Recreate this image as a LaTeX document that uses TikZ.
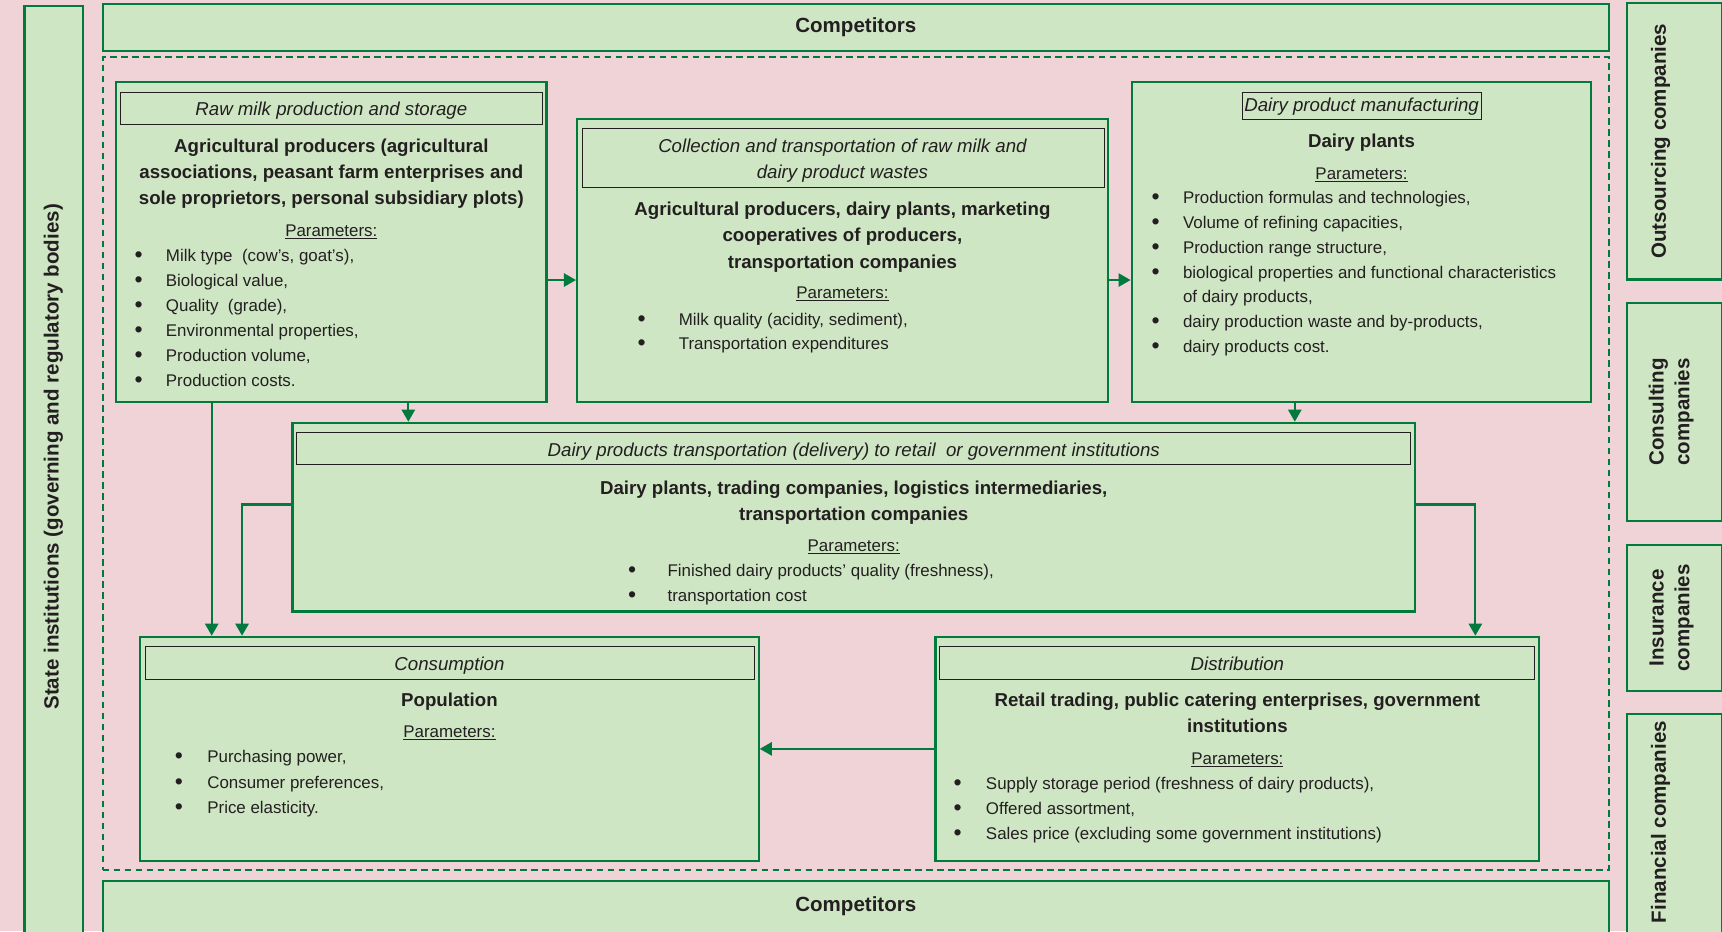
\documentclass[tikz,border=0pt]{standalone}
\usepackage{fontspec}
\setmainfont{Liberation Sans}
\usetikzlibrary{arrows.meta}
\definecolor{pinkbg}{RGB}{239,211,215}
\definecolor{leaf}{RGB}{207,230,196}
\definecolor{forest}{RGB}{0,122,61}
\definecolor{ink}{RGB}{35,31,32}
\tikzset{ stage/.style = { draw       = forest
                         , line width = 2pt
                         , fill       = leaf
                         , inner sep  = 0pt
                         },
          bar/.style   = { draw = ink, line width = 0.9pt, fill = leaf, inner sep = 0pt },
          ttl/.style   = { font = \fontsize{17}{24}\selectfont\itshape, text = ink, inner sep = 0pt },
          head/.style  = { font = \fontsize{17}{24}\selectfont\bfseries, text = ink, inner sep = 0pt },
          txt/.style   = { font = \fontsize{15.4}{23}\selectfont, text = ink, inner sep = 0pt },
          dot/.style   = { font = \fontsize{21}{23}\selectfont, text = ink, inner sep = 0pt },
          comp/.style  = { font = \fontsize{18.7}{23}\selectfont\bfseries, text = ink, inner sep = 0pt },
          side/.style  = { font = \fontsize{18.7}{23.5}\selectfont\bfseries, text = ink
                         , align = center, rotate = 90, inner sep = 0pt },
          flow/.style  = { draw = forest, line width = 2pt, -{Triangle[length=11pt,width=12pt]} }
        }
% lines of centred text: name, x, first baseline, step, style, lines
\newcommand\rows[6]{%
  \foreach \row [count=\n] in {#6} {
    \node[#5, anchor=base] (#1\n) at ({#2},{#3+#4*(\n-1)}) {\row};
  }}
% bullet list: name, bullet x, text x, first baseline, step, flag/text pairs
\newcommand\items[6]{%
  \foreach \bul/\itm [count=\n] in {#6} {
    \node[txt, anchor=base west] (#1\n) at ({#3},{#4+#5*(\n-1)}) {\itm};
    \ifnum\bul=1 \node[dot, anchor=base] (#1b\n) at ({#2},{#4+#5*(\n-1)+1}) {\textbullet}; \fi
  }}

\begin{document}
\begin{tikzpicture}[x=1pt, y=-1pt]
  \useasboundingbox (0,0) rectangle (1568,848);
  \fill[pinkbg] (0,0) rectangle (1568,848);

  % surrounding frame
  \node[stage, minimum width=53pt, minimum height=870pt, anchor=north] (state) at (48.8,4.3) {};
  \node[side] (statel) at (48.6,416) {State institutions (governing and regulatory bodies)};
  \node[stage, comp, minimum width=1371.5pt, minimum height=42.6pt] (topcomp) at (779.25,24.9) {Competitors};
  \node[stage, minimum width=1371.5pt, minimum height=70pt, anchor=north] (botcomp) at (779.25,801.5) {};
  \node[comp, anchor=base] (botcompl) at (779.25,829.7) {Competitors};
  \node[draw=forest, line width=1.8pt, dash pattern=on 6pt off 4pt,
        minimum width=1371.5pt, minimum height=740.1pt] (core) at (779.25,422.25) {};

  \node[stage, minimum width=86.2pt, minimum height=251.8pt] (outs) at (1524.6,128.6) {};
  \node[stage, minimum width=86.2pt, minimum height=198.5pt] (consult) at (1524.6,375.05) {};
  \node[stage, minimum width=86.2pt, minimum height=132.5pt] (insur) at (1524.6,562.75) {};
  \node[stage, minimum width=86.2pt, minimum height=221pt, anchor=north] (finan) at (1524.6,649) {};
  \node[side] (outsl) at (1512,128.6) {Outsourcing companies};
  \node[side] (consultl) at (1521.7,375) {Consulting\\companies};
  \node[side] (insurl) at (1522,562.7) {Insurance\\companies};
  \node[side] (finanl) at (1512,748.5) {Financial companies};

  % raw milk
  \node[stage, minimum width=392.1pt, minimum height=292pt] (raw) at (301.65,220.4) {};
  \node[bar, minimum width=384.5pt, minimum height=29.1pt] (rawbar) at (302.05,98.65) {};
  \rows{rawt}{301.7}{105.1}{24}{ttl}{Raw milk production and storage}
  \rows{rawh}{301.7}{138.8}{23.65}{head}{Agricultural producers (agricultural,
        {associations, peasant farm enterprises and}, {sole proprietors, personal subsidiary plots)}}
  \rows{rawp}{301.7}{215}{0}{txt}{\underline{Parameters:}}
  \items{rawi}{126.2}{150.9}{238}{22.85}{1/{Milk type\ \ (cow's, goat's),}, 1/{Biological value,},
        1/{Quality\ \ (grade),}, 1/{Environmental properties,}, 1/{Production volume,}, 1/{Production costs.}}

  % collection
  \node[stage, minimum width=483.2pt, minimum height=257.9pt] (coll) at (767.1,237.45) {};
  \node[bar, minimum width=475.1pt, minimum height=53.7pt] (collbar) at (767.75,144.05) {};
  \rows{collt}{767.1}{138.8}{23.7}{ttl}{Collection and transportation of raw milk and, dairy product wastes}
  \rows{collh}{767.1}{195.8}{24.3}{head}{{Agricultural producers, dairy plants, marketing},
        {cooperatives of producers,}, transportation companies}
  \rows{collp}{767.1}{272}{0}{txt}{\underline{Parameters:}}
  \items{colli}{584.2}{617.9}{296}{22.2}{1/{Milk quality (acidity, sediment),}, 1/Transportation expenditures}

  % manufacturing
  \node[stage, minimum width=418.5pt, minimum height=291.4pt] (dairy) at (1239.75,220.7) {};
  \node[bar, minimum width=217.6pt, minimum height=24.6pt] (dairybar) at (1239.8,96.4) {};
  \rows{dairyt}{1239.8}{101.7}{24}{ttl}{Dairy product manufacturing}
  \rows{dairyh}{1239.75}{134.2}{24}{head}{Dairy plants}
  \rows{dairyp}{1239.75}{163.4}{0}{txt}{\underline{Parameters:}}
  \items{dairyi}{1052.2}{1077}{185.5}{22.6}{1/{Production formulas and technologies,},
        1/{Volume of refining capacities,}, 1/{Production range structure,},
        1/biological properties and functional characteristics, 0/{of dairy products,},
        1/{dairy production waste and by-products,}, 1/dairy products cost.}

  % delivery
  \node[stage, minimum width=1022pt, minimum height=171.8pt] (trans) at (777.4,470.9) {};
  \node[bar, minimum width=1014pt, minimum height=29.2pt] (transbar) at (777.4,408.6) {};
  \rows{transt}{777.4}{415.9}{24}{ttl}{Dairy products transportation (delivery) to retail\ \ or government institutions}
  \rows{transh}{777.4}{449.9}{23.7}{head}{{Dairy plants, trading companies, logistics intermediaries,},
        transportation companies}
  \rows{transp}{777.4}{501.9}{0}{txt}{\underline{Parameters:}}
  \items{transi}{575.6}{607.7}{525.2}{22.2}{1/{Finished dairy products' quality (freshness),}, 1/transportation cost}

  % consumption
  \node[stage, minimum width=563.1pt, minimum height=204pt] (cons) at (409.25,681.9) {};
  \node[bar, minimum width=554.7pt, minimum height=29.7pt] (consbar) at (409.65,603.85) {};
  \rows{const}{409.25}{610.1}{24}{ttl}{Consumption}
  \rows{consh}{409.25}{643.6}{24}{head}{Population}
  \rows{consp}{409.25}{671.9}{0}{txt}{\underline{Parameters:}}
  \items{consi}{163}{188.6}{694.6}{23.2}{1/{Purchasing power,}, 1/{Consumer preferences,}, 1/Price elasticity.}

  % distribution
  \node[stage, minimum width=549.8pt, minimum height=204pt] (dist) at (1126.7,681.9) {};
  \node[bar, minimum width=541.4pt, minimum height=29.7pt] (distbar) at (1126.3,603.85) {};
  \rows{distt}{1126.7}{610.1}{24}{ttl}{Distribution}
  \rows{disth}{1126.7}{643.6}{23.7}{head}{{Retail trading, public catering enterprises, government},
        institutions}
  \rows{distp}{1126.7}{696.1}{0}{txt}{\underline{Parameters:}}
  \items{disti}{871.9}{897.6}{718.9}{22.8}{1/{Supply storage period (freshness of dairy products),},
        1/{Offered assortment,}, 1/Sales price (excluding some government institutions)}

  % flows
  \coordinate (upper) at (0,255);
  \coordinate (mid)   at (0,459.3);
  \coordinate (dropA) at (192.8,0);
  \coordinate (dropB) at (220.4,0);
  \coordinate (dropC) at (371.8,0);
  \coordinate (dropD) at (1179,0);
  \coordinate (dropE) at (1343.4,0);
  \draw[flow] (raw.east |- upper) -- (coll.west |- upper);
  \draw[flow] (coll.east |- upper) -- (dairy.west |- upper);
  \draw[flow] (raw.south -| dropC) -- (trans.north -| dropC);
  \draw[flow] (dairy.south -| dropD) -- (trans.north -| dropD);
  \draw[flow] (raw.south -| dropA) -- (cons.north -| dropA);
  \draw[flow] (trans.west |- mid) -| (cons.north -| dropB);
  \draw[flow] (trans.east |- mid) -| (dist.north -| dropE);
  \draw[flow] (dist.west) -- (cons.east);
\end{tikzpicture}
\end{document}
